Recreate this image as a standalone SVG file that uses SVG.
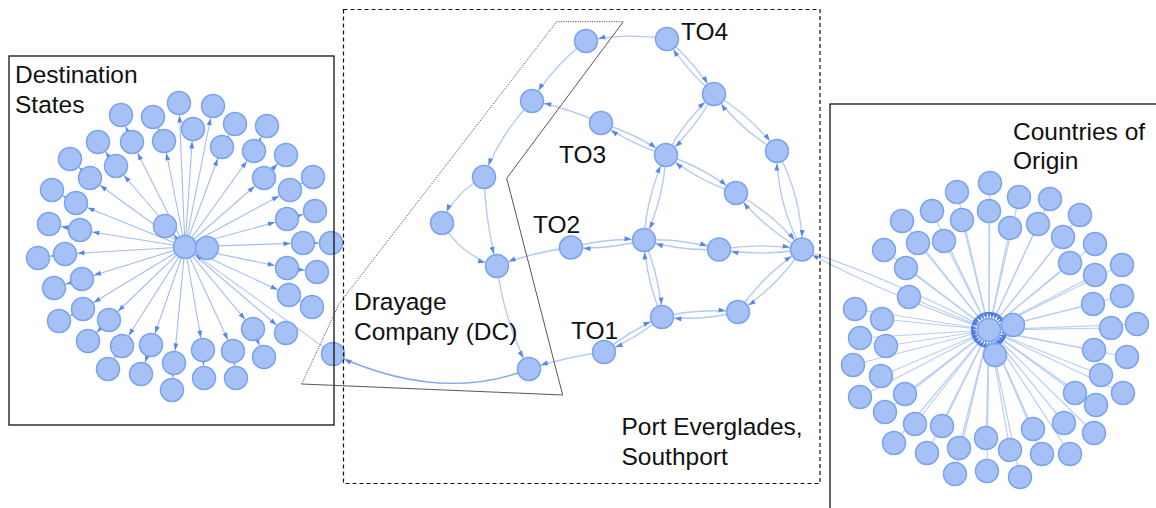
<svg xmlns="http://www.w3.org/2000/svg" width="1156" height="508" viewBox="0 0 1156 508">
  <style>
    .n circle { fill: #a6c1f5; stroke: #7aa2ee; stroke-width: 1.5; }
    .el { fill: none; stroke: #8fb0f0; stroke-width: 1.1; stroke-opacity: 0.85; marker-end: url(#ah); }
    .em { fill: none; stroke: #b3c9f6; stroke-width: 1.4; marker-end: url(#ah); }
    .ed { fill: none; stroke: #86a8ef; stroke-width: 1.4; marker-end: url(#ah); }
    .er { fill: none; stroke: #b9cdf6; stroke-width: 1.2; marker-end: url(#ahs); }
    .frame { fill: none; stroke: #111; stroke-width: 1.3; }
    .dash { fill: none; stroke: #111; stroke-width: 1.2; stroke-dasharray: 4 3; }
    .dot { fill: none; stroke: #444; stroke-width: 0.9; stroke-dasharray: 1.2 1.2; }
    .thin { fill: none; stroke: #444; stroke-width: 0.9; }
    text { font-family: "Liberation Sans", Arial, sans-serif; font-size: 24.5px; fill: #111; }
  </style>
  <defs>
    <marker id="ah" viewBox="0 0 7 6" markerWidth="7" markerHeight="6" refX="19.5" refY="3" orient="auto" markerUnits="userSpaceOnUse" overflow="visible">
      <path d="M0,0.5 L7,3 L0,5.5 Z" fill="#5a88e8"/>
    </marker>
    <marker id="ahs" viewBox="0 0 6 5" markerWidth="6" markerHeight="5" refX="18" refY="2.5" orient="auto" markerUnits="userSpaceOnUse" overflow="visible">
      <path d="M0,0.3 L6,2.5 L0,4.7 Z" fill="#4f7fe4"/>
    </marker>
  </defs>

  <!-- connectors -->
  <g id="connectors">
    <!-- destination states: hub to states -->
    <path class="el" d="M185,247 L193,129"/>
    <path class="el" d="M185,247 L179,103"/>
    <path class="el" d="M185,247 L213,106"/>
    <path class="el" d="M185,247 L164,141"/>
    <path class="el" d="M185,247 L132,142"/>
    <path class="el" d="M185,247 L116,166"/>
    <path class="el" d="M185,247 L90,178"/>
    <path class="el" d="M185,247 L76,203"/>
    <path class="el" d="M185,247 L80,230"/>
    <path class="el" d="M185,247 L65,254"/>
    <path class="el" d="M185,247 L82,279"/>
    <path class="el" d="M185,247 L83,309"/>
    <path class="el" d="M185,247 L109,320"/>
    <path class="el" d="M185,247 L122,346"/>
    <path class="el" d="M185,247 L151,345"/>
    <path class="el" d="M185,247 L174,363"/>
    <path class="el" d="M185,247 L203,350"/>
    <path class="el" d="M185,247 L233,351"/>
    <path class="el" d="M185,247 L253,329"/>
    <path class="el" d="M185,247 L286,333"/>
    <path class="el" d="M185,247 L289,295"/>
    <path class="el" d="M185,247 L287,268"/>
    <path class="el" d="M185,247 L303,243"/>
    <path class="el" d="M185,247 L287,219"/>
    <path class="el" d="M185,247 L290,190"/>
    <path class="el" d="M185,247 L264,178"/>
    <path class="el" d="M185,247 L254,151"/>
    <path class="el" d="M185,247 L222,147"/>
    <path class="el" d="M185,247 L165,226"/>
    <path class="el" d="M185,247 L207,248"/>
    <!-- destination states: inner to outer -->
    <path class="el" d="M164,141 L153,117"/>
    <path class="el" d="M132,142 L121,115"/>
    <path class="el" d="M116,166 L98,142"/>
    <path class="el" d="M90,178 L70,159"/>
    <path class="el" d="M76,203 L52,190"/>
    <path class="el" d="M80,230 L49,224"/>
    <path class="el" d="M65,254 L38,258"/>
    <path class="el" d="M82,279 L54,288"/>
    <path class="el" d="M83,309 L59,321"/>
    <path class="el" d="M109,320 L88,341"/>
    <path class="el" d="M122,346 L108,369"/>
    <path class="el" d="M151,345 L141,374"/>
    <path class="el" d="M174,363 L172,390"/>
    <path class="el" d="M203,350 L204,378"/>
    <path class="el" d="M233,351 L236,378"/>
    <path class="el" d="M253,329 L264,357"/>
    <path class="el" d="M289,295 L312,307"/>
    <path class="el" d="M287,268 L317,272"/>
    <path class="el" d="M303,243 L331,243"/>
    <path class="el" d="M287,219 L315,211"/>
    <path class="el" d="M290,190 L313,177"/>
    <path class="el" d="M264,178 L286,155"/>
    <path class="el" d="M254,151 L267,126"/>
    <path class="el" d="M222,147 L235,124"/>
    <!-- drayage company exit to destination hub -->
    <path class="em" d="M333,354 L185,247" stroke-opacity="0.8"/>

    <!-- drayage company chain -->
    <path class="em" d="M667,39 A220,220 0 0 0 586,41"/>
    <path class="em" d="M586,41 A220,220 0 0 0 532,101"/>
    <path class="em" d="M532,101 A220,220 0 0 0 484,177"/>
    <path class="em" d="M484,177 A90,90 0 0 0 442,223"/>
    <path class="em" d="M484,177 A400,400 0 0 0 497,266"/>
    <path class="em" d="M442,223 A90,90 0 0 0 497,266"/>
    <path class="em" d="M601,123 A300,300 0 0 0 532,101"/>
    <path class="em" d="M571,247.5 A300,300 0 0 0 497,266"/>
    <path class="em" d="M497,266 A300,300 0 0 0 529,369"/>
    <path class="em" d="M604,352 A400,400 0 0 0 529,369"/>
    <path class="ed" d="M529,369 Q440,404 333,354"/>

    <!-- terminal operator links (both directions) -->
    <path class="em" d="M667,39 A220,220 0 0 1 714,94"/>
    <path class="em" d="M714,94 A220,220 0 0 1 667,39"/>
    <path class="em" d="M714,94 A200,200 0 0 1 777,151"/>
    <path class="em" d="M777,151 A200,200 0 0 1 714,94"/>
    <path class="em" d="M714,94 A220,220 0 0 1 666,155"/>
    <path class="em" d="M666,155 A220,220 0 0 1 714,94"/>
    <path class="em" d="M601,123 A220,220 0 0 1 666,155"/>
    <path class="em" d="M666,155 A220,220 0 0 1 601,123"/>
    <path class="em" d="M666,155 A220,220 0 0 1 736,193"/>
    <path class="em" d="M736,193 A220,220 0 0 1 666,155"/>
    <path class="em" d="M666,155 A220,220 0 0 1 644,240"/>
    <path class="em" d="M644,240 A220,220 0 0 1 666,155"/>
    <path class="em" d="M777,151 A200,200 0 0 1 802,249.5"/>
    <path class="em" d="M802,249.5 A200,200 0 0 1 777,151"/>
    <path class="em" d="M736,193 A220,220 0 0 1 802,249.5"/>
    <path class="em" d="M802,249.5 A220,220 0 0 1 736,193"/>
    <path class="em" d="M571,247.5 A220,220 0 0 1 644,240"/>
    <path class="em" d="M644,240 A220,220 0 0 1 571,247.5"/>
    <path class="em" d="M644,240 A220,220 0 0 1 719,249.5"/>
    <path class="em" d="M719,249.5 A220,220 0 0 1 644,240"/>
    <path class="em" d="M719,249.5 A240,240 0 0 1 802,249.5"/>
    <path class="em" d="M802,249.5 A240,240 0 0 1 719,249.5"/>
    <path class="em" d="M644,240 A220,220 0 0 1 662,317"/>
    <path class="em" d="M662,317 A220,220 0 0 1 644,240"/>
    <path class="em" d="M662,317 A220,220 0 0 1 738,312"/>
    <path class="em" d="M738,312 A220,220 0 0 1 662,317"/>
    <path class="em" d="M738,312 A220,220 0 0 1 802,249.5"/>
    <path class="em" d="M802,249.5 A220,220 0 0 1 738,312"/>
    <path class="em" d="M662,317 A220,220 0 0 1 604,352"/>
    <path class="em" d="M604,352 A220,220 0 0 1 662,317"/>

    <!-- gateway to countries of origin hub -->
    <path class="er" d="M802,249.5 A1200,1200 0 0 1 989,330"/>
    <path class="er" d="M989,330 A1200,1200 0 0 1 802,249.5"/>

    <!-- countries of origin to hub -->
    <path class="er" d="M1013,325 L989,330"/>
    <path class="er" d="M995,355 L989,330"/>
    <path class="er" d="M990,183 L989,330"/>
    <path class="er" d="M957,192 L989,330"/>
    <path class="er" d="M1019,197 L989,330"/>
    <path class="er" d="M1050,199 L989,330"/>
    <path class="er" d="M989,211 L989,330"/>
    <path class="er" d="M932,211 L989,330"/>
    <path class="er" d="M962,220 L989,330"/>
    <path class="er" d="M1010,228 L989,330"/>
    <path class="er" d="M1038,224 L989,330"/>
    <path class="er" d="M1080,215 L989,330"/>
    <path class="er" d="M902,221 L989,330"/>
    <path class="er" d="M918,243 L989,330"/>
    <path class="er" d="M944,241 L989,330"/>
    <path class="er" d="M1063,237 L989,330"/>
    <path class="er" d="M1095,244 L989,330"/>
    <path class="er" d="M884,250 L989,330"/>
    <path class="er" d="M906,268 L989,330"/>
    <path class="er" d="M1070,263 L989,330"/>
    <path class="er" d="M1095,275 L989,330"/>
    <path class="er" d="M1122,265 L989,330"/>
    <path class="er" d="M909,297 L989,330"/>
    <path class="er" d="M1093,304 L989,330"/>
    <path class="er" d="M1122,296 L989,330"/>
    <path class="er" d="M855,309 L989,330"/>
    <path class="er" d="M882,319 L989,330"/>
    <path class="er" d="M1111,328 L989,330"/>
    <path class="er" d="M1137,324 L989,330"/>
    <path class="er" d="M860,338 L989,330"/>
    <path class="er" d="M886,346 L989,330"/>
    <path class="er" d="M1094,350 L989,330"/>
    <path class="er" d="M1127,357 L989,330"/>
    <path class="er" d="M853,365 L989,330"/>
    <path class="er" d="M881,376 L989,330"/>
    <path class="er" d="M1101,375 L989,330"/>
    <path class="er" d="M1123,393 L989,330"/>
    <path class="er" d="M860,397 L989,330"/>
    <path class="er" d="M905,394 L989,330"/>
    <path class="er" d="M1075,393 L989,330"/>
    <path class="er" d="M1096,405 L989,330"/>
    <path class="er" d="M885,412 L989,330"/>
    <path class="er" d="M915,424 L989,330"/>
    <path class="er" d="M942,426 L989,330"/>
    <path class="er" d="M1033,429 L989,330"/>
    <path class="er" d="M1064,423 L989,330"/>
    <path class="er" d="M1094,433 L989,330"/>
    <path class="er" d="M894,443 L989,330"/>
    <path class="er" d="M927,453 L989,330"/>
    <path class="er" d="M959,448 L989,330"/>
    <path class="er" d="M986,438 L989,330"/>
    <path class="er" d="M1010,450 L989,330"/>
    <path class="er" d="M1042,454 L989,330"/>
    <path class="er" d="M1070,454 L989,330"/>
    <path class="er" d="M955,474 L989,330"/>
    <path class="er" d="M987,471 L989,330"/>
    <path class="er" d="M1020,477 L989,330"/>
  </g>

  <!-- destination states -->
  <g id="ds-hub" class="n"><circle cx="185" cy="247" r="11.5"/></g>
  <g id="ds-hub2" class="n"><circle cx="207" cy="248" r="11.5"/></g>
  <g id="ds-01" class="n"><circle cx="193" cy="129" r="11.5"/></g>
  <g id="ds-02" class="n"><circle cx="179" cy="103" r="11.5"/></g>
  <g id="ds-03" class="n"><circle cx="213" cy="106" r="11.5"/></g>
  <g id="ds-04" class="n"><circle cx="164" cy="141" r="11.5"/></g>
  <g id="ds-05" class="n"><circle cx="132" cy="142" r="11.5"/></g>
  <g id="ds-06" class="n"><circle cx="116" cy="166" r="11.5"/></g>
  <g id="ds-07" class="n"><circle cx="90" cy="178" r="11.5"/></g>
  <g id="ds-08" class="n"><circle cx="76" cy="203" r="11.5"/></g>
  <g id="ds-09" class="n"><circle cx="80" cy="230" r="11.5"/></g>
  <g id="ds-10" class="n"><circle cx="65" cy="254" r="11.5"/></g>
  <g id="ds-11" class="n"><circle cx="82" cy="279" r="11.5"/></g>
  <g id="ds-12" class="n"><circle cx="83" cy="309" r="11.5"/></g>
  <g id="ds-13" class="n"><circle cx="109" cy="320" r="11.5"/></g>
  <g id="ds-14" class="n"><circle cx="122" cy="346" r="11.5"/></g>
  <g id="ds-15" class="n"><circle cx="151" cy="345" r="11.5"/></g>
  <g id="ds-16" class="n"><circle cx="174" cy="363" r="11.5"/></g>
  <g id="ds-17" class="n"><circle cx="203" cy="350" r="11.5"/></g>
  <g id="ds-18" class="n"><circle cx="233" cy="351" r="11.5"/></g>
  <g id="ds-19" class="n"><circle cx="253" cy="329" r="11.5"/></g>
  <g id="ds-20" class="n"><circle cx="286" cy="333" r="11.5"/></g>
  <g id="ds-21" class="n"><circle cx="289" cy="295" r="11.5"/></g>
  <g id="ds-22" class="n"><circle cx="287" cy="268" r="11.5"/></g>
  <g id="ds-23" class="n"><circle cx="303" cy="243" r="11.5"/></g>
  <g id="ds-24" class="n"><circle cx="287" cy="219" r="11.5"/></g>
  <g id="ds-25" class="n"><circle cx="290" cy="190" r="11.5"/></g>
  <g id="ds-26" class="n"><circle cx="264" cy="178" r="11.5"/></g>
  <g id="ds-27" class="n"><circle cx="254" cy="151" r="11.5"/></g>
  <g id="ds-28" class="n"><circle cx="222" cy="147" r="11.5"/></g>
  <g id="ds-29" class="n"><circle cx="165" cy="226" r="11.5"/></g>
  <g id="ds-30" class="n"><circle cx="153" cy="117" r="11.5"/></g>
  <g id="ds-31" class="n"><circle cx="121" cy="115" r="11.5"/></g>
  <g id="ds-32" class="n"><circle cx="98" cy="142" r="11.5"/></g>
  <g id="ds-33" class="n"><circle cx="70" cy="159" r="11.5"/></g>
  <g id="ds-34" class="n"><circle cx="52" cy="190" r="11.5"/></g>
  <g id="ds-35" class="n"><circle cx="49" cy="224" r="11.5"/></g>
  <g id="ds-36" class="n"><circle cx="38" cy="258" r="11.5"/></g>
  <g id="ds-37" class="n"><circle cx="54" cy="288" r="11.5"/></g>
  <g id="ds-38" class="n"><circle cx="59" cy="321" r="11.5"/></g>
  <g id="ds-39" class="n"><circle cx="88" cy="341" r="11.5"/></g>
  <g id="ds-40" class="n"><circle cx="108" cy="369" r="11.5"/></g>
  <g id="ds-41" class="n"><circle cx="141" cy="374" r="11.5"/></g>
  <g id="ds-42" class="n"><circle cx="172" cy="390" r="11.5"/></g>
  <g id="ds-43" class="n"><circle cx="204" cy="378" r="11.5"/></g>
  <g id="ds-44" class="n"><circle cx="236" cy="378" r="11.5"/></g>
  <g id="ds-45" class="n"><circle cx="264" cy="357" r="11.5"/></g>
  <g id="ds-46" class="n"><circle cx="312" cy="307" r="11.5"/></g>
  <g id="ds-47" class="n"><circle cx="317" cy="272" r="11.5"/></g>
  <g id="ds-48" class="n"><circle cx="331" cy="243" r="11.5"/></g>
  <g id="ds-49" class="n"><circle cx="315" cy="211" r="11.5"/></g>
  <g id="ds-50" class="n"><circle cx="313" cy="177" r="11.5"/></g>
  <g id="ds-51" class="n"><circle cx="286" cy="155" r="11.5"/></g>
  <g id="ds-52" class="n"><circle cx="267" cy="126" r="11.5"/></g>
  <g id="ds-53" class="n"><circle cx="235" cy="124" r="11.5"/></g>

  <!-- drayage company and terminal operators -->
  <g id="dc-exit" class="n"><circle cx="333" cy="354" r="11.5"/></g>
  <g id="dc-a" class="n"><circle cx="586" cy="41" r="11.5"/></g>
  <g id="dc-c" class="n"><circle cx="532" cy="101" r="11.5"/></g>
  <g id="dc-i" class="n"><circle cx="484" cy="177" r="11.5"/></g>
  <g id="dc-j" class="n"><circle cx="442" cy="223" r="11.5"/></g>
  <g id="dc-o" class="n"><circle cx="497" cy="266" r="11.5"/></g>
  <g id="dc-s" class="n"><circle cx="529" cy="369" r="11.5"/></g>
  <g id="to4" class="n"><circle cx="667" cy="39" r="11.5"/></g>
  <g id="to3" class="n"><circle cx="601" cy="123" r="11.5"/></g>
  <g id="to2" class="n"><circle cx="571" cy="247.5" r="11.5"/></g>
  <g id="to1" class="n"><circle cx="604" cy="352" r="11.5"/></g>
  <g id="pe-e" class="n"><circle cx="714" cy="94" r="11.5"/></g>
  <g id="pe-f" class="n"><circle cx="666" cy="155" r="11.5"/></g>
  <g id="pe-g" class="n"><circle cx="777" cy="151" r="11.5"/></g>
  <g id="pe-h" class="n"><circle cx="736" cy="193" r="11.5"/></g>
  <g id="pe-l" class="n"><circle cx="644" cy="240" r="11.5"/></g>
  <g id="pe-m" class="n"><circle cx="719" cy="249.5" r="11.5"/></g>
  <g id="pe-gate" class="n"><circle cx="802" cy="249.5" r="11.5"/></g>
  <g id="pe-p" class="n"><circle cx="662" cy="317" r="11.5"/></g>
  <g id="pe-q" class="n"><circle cx="738" cy="312" r="11.5"/></g>

  <!-- countries of origin -->
  <g id="co-hub" class="n"><circle cx="989" cy="330" r="11.5"/></g>
  <g id="co-01" class="n"><circle cx="1013" cy="325" r="11.5"/></g>
  <g id="co-02" class="n"><circle cx="995" cy="355" r="11.5"/></g>
  <g id="co-03" class="n"><circle cx="990" cy="183" r="11.5"/></g>
  <g id="co-04" class="n"><circle cx="957" cy="192" r="11.5"/></g>
  <g id="co-05" class="n"><circle cx="1019" cy="197" r="11.5"/></g>
  <g id="co-06" class="n"><circle cx="1050" cy="199" r="11.5"/></g>
  <g id="co-07" class="n"><circle cx="989" cy="211" r="11.5"/></g>
  <g id="co-08" class="n"><circle cx="932" cy="211" r="11.5"/></g>
  <g id="co-09" class="n"><circle cx="962" cy="220" r="11.5"/></g>
  <g id="co-10" class="n"><circle cx="1010" cy="228" r="11.5"/></g>
  <g id="co-11" class="n"><circle cx="1038" cy="224" r="11.5"/></g>
  <g id="co-12" class="n"><circle cx="1080" cy="215" r="11.5"/></g>
  <g id="co-13" class="n"><circle cx="902" cy="221" r="11.5"/></g>
  <g id="co-14" class="n"><circle cx="918" cy="243" r="11.5"/></g>
  <g id="co-15" class="n"><circle cx="944" cy="241" r="11.5"/></g>
  <g id="co-16" class="n"><circle cx="1063" cy="237" r="11.5"/></g>
  <g id="co-17" class="n"><circle cx="1095" cy="244" r="11.5"/></g>
  <g id="co-18" class="n"><circle cx="884" cy="250" r="11.5"/></g>
  <g id="co-19" class="n"><circle cx="906" cy="268" r="11.5"/></g>
  <g id="co-20" class="n"><circle cx="1070" cy="263" r="11.5"/></g>
  <g id="co-21" class="n"><circle cx="1095" cy="275" r="11.5"/></g>
  <g id="co-22" class="n"><circle cx="1122" cy="265" r="11.5"/></g>
  <g id="co-23" class="n"><circle cx="909" cy="297" r="11.5"/></g>
  <g id="co-24" class="n"><circle cx="1093" cy="304" r="11.5"/></g>
  <g id="co-25" class="n"><circle cx="1122" cy="296" r="11.5"/></g>
  <g id="co-26" class="n"><circle cx="855" cy="309" r="11.5"/></g>
  <g id="co-27" class="n"><circle cx="882" cy="319" r="11.5"/></g>
  <g id="co-28" class="n"><circle cx="1111" cy="328" r="11.5"/></g>
  <g id="co-29" class="n"><circle cx="1137" cy="324" r="11.5"/></g>
  <g id="co-30" class="n"><circle cx="860" cy="338" r="11.5"/></g>
  <g id="co-31" class="n"><circle cx="886" cy="346" r="11.5"/></g>
  <g id="co-32" class="n"><circle cx="1094" cy="350" r="11.5"/></g>
  <g id="co-33" class="n"><circle cx="1127" cy="357" r="11.5"/></g>
  <g id="co-34" class="n"><circle cx="853" cy="365" r="11.5"/></g>
  <g id="co-35" class="n"><circle cx="881" cy="376" r="11.5"/></g>
  <g id="co-36" class="n"><circle cx="1101" cy="375" r="11.5"/></g>
  <g id="co-37" class="n"><circle cx="1123" cy="393" r="11.5"/></g>
  <g id="co-38" class="n"><circle cx="860" cy="397" r="11.5"/></g>
  <g id="co-39" class="n"><circle cx="905" cy="394" r="11.5"/></g>
  <g id="co-40" class="n"><circle cx="1075" cy="393" r="11.5"/></g>
  <g id="co-41" class="n"><circle cx="1096" cy="405" r="11.5"/></g>
  <g id="co-42" class="n"><circle cx="885" cy="412" r="11.5"/></g>
  <g id="co-43" class="n"><circle cx="915" cy="424" r="11.5"/></g>
  <g id="co-44" class="n"><circle cx="942" cy="426" r="11.5"/></g>
  <g id="co-45" class="n"><circle cx="1033" cy="429" r="11.5"/></g>
  <g id="co-46" class="n"><circle cx="1064" cy="423" r="11.5"/></g>
  <g id="co-47" class="n"><circle cx="1094" cy="433" r="11.5"/></g>
  <g id="co-48" class="n"><circle cx="894" cy="443" r="11.5"/></g>
  <g id="co-49" class="n"><circle cx="927" cy="453" r="11.5"/></g>
  <g id="co-50" class="n"><circle cx="959" cy="448" r="11.5"/></g>
  <g id="co-51" class="n"><circle cx="986" cy="438" r="11.5"/></g>
  <g id="co-52" class="n"><circle cx="1010" cy="450" r="11.5"/></g>
  <g id="co-53" class="n"><circle cx="1042" cy="454" r="11.5"/></g>
  <g id="co-54" class="n"><circle cx="1070" cy="454" r="11.5"/></g>
  <g id="co-55" class="n"><circle cx="955" cy="474" r="11.5"/></g>
  <g id="co-56" class="n"><circle cx="987" cy="471" r="11.5"/></g>
  <g id="co-57" class="n"><circle cx="1020" cy="477" r="11.5"/></g>

  <!-- region frames -->
  <g id="frames">
    <rect class="frame" x="9" y="56" width="325" height="369"/>
    <rect class="dash" x="343.5" y="9.5" width="476.5" height="474"/>
    <rect class="frame" x="830" y="104" width="340" height="420"/>
    <path class="dot" d="M301.7,384 L339,304 L556.7,21.7 L623.3,21.7"/>
    <path class="thin" d="M623.3,21.7 L506.7,178.3 L562.7,395 L301.7,384"/>
  </g>

  <!-- labels -->
  <g id="labels">
    <text x="15" y="83">Destination</text>
    <text x="15" y="112.5">States</text>
    <text x="681" y="39.5">TO4</text>
    <text x="559" y="162.5">TO3</text>
    <text x="533" y="232.5">TO2</text>
    <text x="571" y="339">TO1</text>
    <text x="354" y="309.5">Drayage</text>
    <text x="354" y="339.5">Company (DC)</text>
    <text x="621.5" y="435">Port Everglades,</text>
    <text x="621.5" y="465">Southport</text>
    <text x="1013" y="139.5">Countries of</text>
    <text x="1013" y="168.5">Origin</text>
  </g>
</svg>
